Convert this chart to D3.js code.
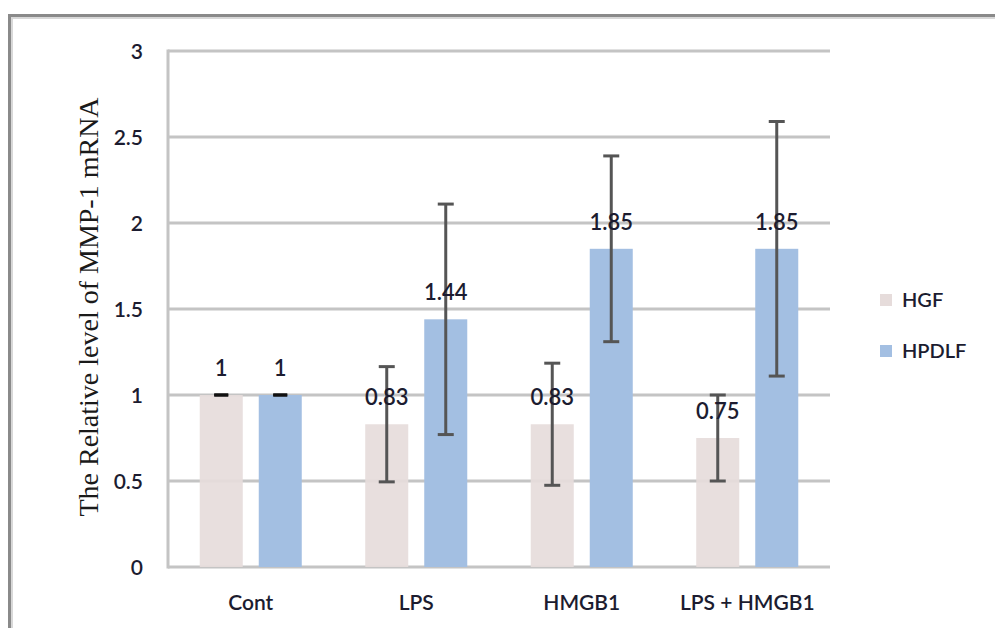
<!DOCTYPE html>
<html><head><meta charset="utf-8">
<script src="https://cdn.jsdelivr.net/npm/d3@7"></script>
<style>body{margin:0;background:#fff}svg{display:block}</style>
</head><body>
<svg id="c" width="995" height="628"></svg>
<script>
const categories = ["Cont", "LPS", "HMGB1", "LPS + HMGB1"];
const seriesNames = ["HGF", "HPDLF"];
const hgfValues = [1, 0.83, 0.83, 0.75];
const hpdlfValues = [1, 1.44, 1.85, 1.85];
const hgfErrors = [0, 0.335, 0.355, 0.25];
const hpdlfErrors = [0, 0.67, 0.54, 0.74];
const yTicks = [0, 0.5, 1, 1.5, 2, 2.5, 3];
const labels = [["1","0.83","0.83","0.75"],["1","1.44","1.85","1.85"]];
const colors = ["#e6dcdb", "#a3bfe2"];

(function(){
const svg = d3.select("#c");
const pL = 168, pR = 830, pT = 51, pB = 567;
const x = d3.scaleBand().domain(categories).range([pL, pR]).padding(0);
const xs = d3.scaleBand().domain(seriesNames).range([0, x.bandwidth()]).paddingInner(0.271).paddingOuter(0.538);
const y = d3.scaleLinear().domain([0, 3]).range([pB, pT]);
const sans = "Lato, 'Open Sans', sans-serif";
const txtCol = "#1c1c30";

// frame
svg.append("line").attr("x1",8).attr("x2",995).attr("y1",15.5).attr("y2",15.5).attr("stroke","#8a8a8a").attr("stroke-width",3);
svg.append("line").attr("x1",8).attr("x2",995).attr("y1",18).attr("y2",18).attr("stroke","#d8d8d8").attr("stroke-width",2);
svg.append("line").attr("x1",9.5).attr("x2",9.5).attr("y1",14).attr("y2",628).attr("stroke","#8a8a8a").attr("stroke-width",3);
svg.append("line").attr("x1",12).attr("x2",12).attr("y1",17).attr("y2",628).attr("stroke","#d8d8d8").attr("stroke-width",2);

// gridlines
svg.append("g").selectAll("line").data(yTicks).join("line")
  .attr("x1", pL).attr("x2", pR).attr("y1", d=>y(d)).attr("y2", d=>y(d))
  .attr("stroke", "#c4c4c4").attr("stroke-width", 3);
svg.append("line").attr("x1", pL).attr("x2", pL).attr("y1", pT-1.5).attr("y2", pB+1.5)
  .attr("stroke", "#c4c4c4").attr("stroke-width", 3);

// y tick labels
const yAxis = d3.axisLeft(y).tickValues(yTicks).tickSize(0).tickPadding(0).tickFormat(d3.format("~g"));
const ga = svg.append("g").attr("transform", "translate(143,0)").call(yAxis);
ga.select(".domain").remove();
ga.selectAll("text").attr("font-family",sans).attr("font-size",21).attr("font-weight",600).attr("fill",txtCol).attr("dy","0.35em");

// x labels
const xAxis = d3.axisBottom(x).tickSize(0).tickPadding(0);
const gx = svg.append("g").attr("transform", "translate(0,603)").call(xAxis);
gx.select(".domain").remove();
gx.selectAll("text").attr("font-family",sans).attr("font-size",21).attr("font-weight",600).attr("fill",txtCol).attr("dy","0.35em");

// bars
const vals = [hgfValues, hpdlfValues];
const errs = [hgfErrors, hpdlfErrors];
const data = [];
seriesNames.forEach((s, si) => categories.forEach((c, ci) => data.push({s, si, c, v: vals[si][ci], e: errs[si][ci], l: labels[si][ci]})));

svg.append("g").selectAll("rect").data(data).join("rect")
  .attr("x", d => x(d.c) + xs(d.s)).attr("width", xs.bandwidth())
  .attr("y", d => y(d.v)).attr("height", d => y(0) - y(d.v))
  .attr("fill", d => colors[d.si]).attr("opacity", d => d.si === 0 ? 0.92 : 1);

// error bars
const eg = svg.append("g");
data.forEach(d => {
  const cx = x(d.c) + xs(d.s) + xs.bandwidth()/2;
  const col = d.e === 0 ? "#111" : "#555";
  if (d.e > 0) {
    eg.append("line").attr("x1",cx).attr("x2",cx).attr("y1",y(d.v+d.e)).attr("y2",y(d.v-d.e)).attr("stroke",col).attr("stroke-width",3);
  }
  const cw = d.e === 0 ? 7 : 8;
  [d.v+d.e, d.v-d.e].forEach(t => {
    eg.append("line").attr("x1",cx-cw).attr("x2",cx+cw).attr("y1",y(t)).attr("y2",y(t)).attr("stroke",col).attr("stroke-width",3);
  });
});

// data labels
svg.append("g").selectAll("text").data(data).join("text")
  .attr("x", d => x(d.c) + xs(d.s) + xs.bandwidth()/2)
  .attr("y", d => y(d.v) - 27).attr("dy","0.35em")
  .attr("text-anchor","middle").attr("font-family",sans)
  .attr("font-size",22).attr("font-weight",600).attr("fill",txtCol)
  .text(d => d.l);

// y title
svg.append("text").attr("transform", "translate(98,307) rotate(-90)")
  .attr("text-anchor","middle")
  .attr("font-family","'Liberation Serif', 'Times New Roman', serif").attr("font-size",28)
  .attr("fill","#1a1a1a")
  .text("The Relative level of  MMP-1 mRNA");

// legend
const lg = svg.append("g");
seriesNames.forEach((s, i) => {
  const ly = 300 + i*51;
  lg.append("rect").attr("x",880).attr("y",ly-6).attr("width",12).attr("height",12).attr("fill",colors[i]);
  lg.append("text").attr("x",902).attr("y",ly).attr("dy","0.35em").attr("font-family",sans)
    .attr("font-size",20).attr("font-weight",600).attr("fill",txtCol).text(s);
});
})();
</script>
</body></html>
